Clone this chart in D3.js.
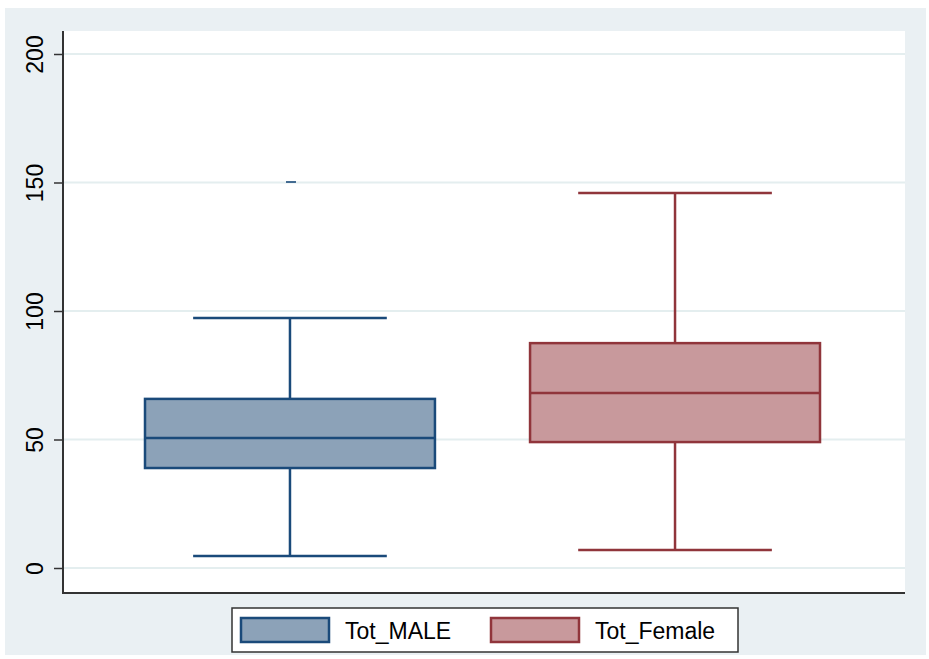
<!DOCTYPE html>
<html>
<head>
<meta charset="utf-8">
<script src="https://cdn.jsdelivr.net/npm/d3@7"></script>
<style>
  body { margin: 0; background: #fff; }
  text { font-family: Arial, "Liberation Sans", sans-serif; }
</style>
</head>
<body>
<div id="chart"></div>
<script>
// box plot stats
const series = ["Tot_MALE", "Tot_Female"]
const whiskerLow = [4.7, 7.0]
const q1 = [38.9, 49.0]
const median = [50.6, 68.1]
const q3 = [65.8, 87.5]
const whiskerHigh = [97.3, 145.9]
const outliers = [[150.2], []]
const yTicks = [0, 50, 100, 150, 200]

const fills = ["#8ca2b8", "#c8999c"]
const strokes = ["#1a4a7a", "#90353b"]

const width = 929, height = 659

const svg = d3.select("#chart").append("svg")
    .attr("width", width)
    .attr("height", height)

// outer stata background
svg.append("rect")
    .attr("x", 5).attr("y", 8)
    .attr("width", 921).attr("height", 647)
    .attr("fill", "#eaf0f3")

const plot = { left: 63, right: 905, top: 31, bottom: 593 }

svg.append("rect")
    .attr("x", plot.left).attr("y", plot.top)
    .attr("width", plot.right - plot.left).attr("height", plot.bottom - plot.top)
    .attr("fill", "#fff")

const y = d3.scaleLinear().domain([0, 200]).range([568, 54])

// two boxes, about 290px wide
const x = d3.scaleBand().domain(series).range([145, 820]).paddingInner(0.247).paddingOuter(0)

// grid lines
svg.append("g")
    .selectAll("line")
    .data(yTicks)
    .join("line")
    .attr("x1", plot.left + 1).attr("x2", plot.right)
    .attr("y1", d => y(d)).attr("y2", d => y(d))
    .attr("stroke", "#e4eeef")
    .attr("stroke-width", 2)

// y axis
const yAxis = svg.append("g")
    .attr("transform", `translate(${plot.left},0)`)
    .call(d3.axisLeft(y).tickValues(yTicks).tickSize(9).tickSizeOuter(0))
yAxis.select(".domain").remove()
yAxis.selectAll(".tick line").attr("stroke", "#333").attr("stroke-width", 1.5)
yAxis.selectAll(".tick text")
    .attr("transform", "rotate(-90)")
    .attr("x", 0).attr("y", -20)
    .attr("dy", 0)
    .attr("text-anchor", "middle")
    .attr("font-size", 23)
    .attr("fill", "#000")

// axis lines
svg.append("line")
    .attr("x1", plot.left).attr("x2", plot.left)
    .attr("y1", plot.top).attr("y2", plot.bottom)
    .attr("stroke", "#333").attr("stroke-width", 2)
svg.append("line")
    .attr("x1", plot.left - 1).attr("x2", plot.right)
    .attr("y1", plot.bottom).attr("y2", plot.bottom)
    .attr("stroke", "#333").attr("stroke-width", 2)

// boxes
const boxes = svg.append("g")
    .selectAll("g")
    .data(series)
    .join("g")

boxes.each(function (s, i) {
    const g = d3.select(this)
    const x0 = x(s), bw = x.bandwidth(), cx = x0 + bw / 2
    const capW = bw * 0.668
    const col = strokes[i]

    g.append("line")
        .attr("x1", cx).attr("x2", cx)
        .attr("y1", y(whiskerHigh[i])).attr("y2", y(q3[i]))
        .attr("stroke", col).attr("stroke-width", 2.5)
    g.append("line")
        .attr("x1", cx).attr("x2", cx)
        .attr("y1", y(q1[i])).attr("y2", y(whiskerLow[i]))
        .attr("stroke", col).attr("stroke-width", 2.5)
    g.selectAll(".cap")
        .data([whiskerLow[i], whiskerHigh[i]])
        .join("line")
        .attr("x1", cx - capW / 2).attr("x2", cx + capW / 2)
        .attr("y1", d => y(d)).attr("y2", d => y(d))
        .attr("stroke", col).attr("stroke-width", 2.5)
    g.append("rect")
        .attr("x", x0).attr("y", y(q3[i]))
        .attr("width", bw).attr("height", y(q1[i]) - y(q3[i]))
        .attr("fill", fills[i])
        .attr("stroke", col).attr("stroke-width", 2.5)
    g.append("line")
        .attr("x1", x0).attr("x2", x0 + bw)
        .attr("y1", y(median[i])).attr("y2", y(median[i]))
        .attr("stroke", col).attr("stroke-width", 2.5)
    g.selectAll(".out")
        .data(outliers[i])
        .join("line")
        .attr("x1", cx - 4).attr("x2", cx + 6)
        .attr("y1", d => y(d)).attr("y2", d => y(d))
        .attr("stroke", col).attr("stroke-width", 2)
        .attr("opacity", 0.8)
})

// legend
const legend = svg.append("g")
legend.append("rect")
    .attr("x", 232).attr("y", 608)
    .attr("width", 506).attr("height", 44)
    .attr("fill", "#fff")
    .attr("stroke", "#333").attr("stroke-width", 1.5)

const legendX = [241, 491]
series.forEach((s, i) => {
    legend.append("rect")
        .attr("x", legendX[i]).attr("y", 618)
        .attr("width", 88).attr("height", 24)
        .attr("fill", fills[i])
        .attr("stroke", strokes[i]).attr("stroke-width", 2.5)
    legend.append("text")
        .attr("x", legendX[i] + 104).attr("y", 639)
        .attr("font-size", 23)
        .attr("fill", "#000")
        .text(s)
})
</script>
</body>
</html>
